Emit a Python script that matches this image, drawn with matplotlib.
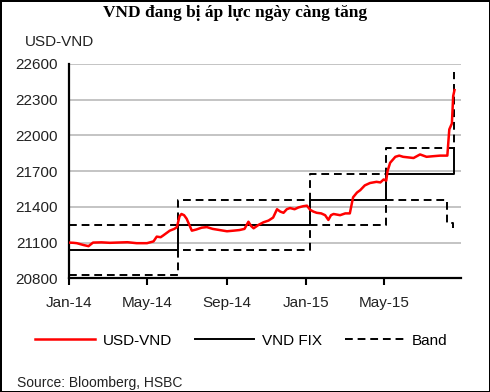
import numpy as np
import pandas as pd
import matplotlib
matplotlib.use("Agg")
import matplotlib.pyplot as plt
import matplotlib.dates as mdates
from matplotlib.lines import Line2D

# USD-VND market rate
usd_dates = [
    "2014-01-01", "2014-01-08", "2014-01-13", "2014-01-23", "2014-01-31", "2014-02-07",
    "2014-02-20", "2014-03-05", "2014-03-15", "2014-04-01", "2014-04-15", "2014-05-01",
    "2014-05-11", "2014-05-16", "2014-05-22", "2014-05-26", "2014-06-05", "2014-06-12",
    "2014-06-16", "2014-06-20", "2014-06-23", "2014-06-27", "2014-07-01", "2014-07-09",
    "2014-07-16", "2014-07-24", "2014-08-01", "2014-08-10", "2014-08-21", "2014-09-01",
    "2014-09-11", "2014-09-20", "2014-09-28", "2014-10-04", "2014-10-08", "2014-10-12",
    "2014-10-20", "2014-10-27", "2014-11-04", "2014-11-11", "2014-11-17", "2014-11-22",
    "2014-11-27", "2014-12-02", "2014-12-07", "2014-12-14", "2014-12-20", "2014-12-27",
    "2015-01-02", "2015-01-07", "2015-01-12", "2015-01-17", "2015-01-24", "2015-01-30",
    "2015-02-04", "2015-02-08", "2015-02-12", "2015-02-22", "2015-03-02", "2015-03-09",
    "2015-03-14", "2015-03-20", "2015-03-25", "2015-04-01", "2015-04-09", "2015-04-19",
    "2015-04-25", "2015-04-30", "2015-05-04", "2015-05-06", "2015-05-10", "2015-05-18",
    "2015-05-24", "2015-05-30", "2015-06-07", "2015-06-15", "2015-06-25", "2015-07-05",
    "2015-07-15", "2015-07-26", "2015-08-06", "2015-08-09", "2015-08-13", "2015-08-15",
    "2015-08-17",
]
usd_vnd = [
    21100, 21098, 21095, 21080, 21070, 21100,
    21102, 21098, 21100, 21103, 21095, 21095,
    21110, 21150, 21145, 21160, 21200, 21215,
    21230, 21320, 21340, 21330, 21300, 21200,
    21210, 21225, 21230, 21215, 21205, 21195,
    21200, 21205, 21215, 21275, 21240, 21220,
    21250, 21270, 21285, 21310, 21380, 21360,
    21350, 21380, 21390, 21380, 21395, 21405,
    21410, 21375, 21360, 21350, 21345, 21330,
    21290, 21330, 21340, 21330, 21345, 21345,
    21480, 21520, 21540, 21580, 21600, 21610,
    21605, 21630, 21620, 21700, 21770, 21820,
    21830, 21820, 21815, 21810, 21840, 21820,
    21825, 21830, 21830, 22050, 22100, 22330,
    22380,
]

# Central reference rate (VND FIX) and trading band
fix_dates = ["2014-01-01", "2014-06-17", "2015-01-06", "2015-05-04", "2015-08-16"]
vnd_fix = [21036, 21246, 21458, 21673, 21890]
band_upper = [21246, 21458, 21673, 21890, 22530]
lower_dates = ["2014-01-01", "2014-06-17", "2015-01-06", "2015-05-04", "2015-08-06", "2015-08-15"]
band_lower = [20826, 21034, 21246, 21456, 21262, 21220]

x_ticks = ["2014-01-01", "2014-05-01", "2014-09-01", "2015-01-01", "2015-05-01"]
y_ticks = [20800, 21100, 21400, 21700, 22000, 22300, 22600]

plt.rcParams["font.family"] = ["Liberation Sans", "DejaVu Sans"]

fig = plt.figure(figsize=(4.9, 3.92), dpi=100)
fig.patch.set_edgecolor("black")
fig.patch.set_linewidth(2)
ax = fig.add_axes([0.1408, 0.290, 0.80, 0.547])

ax.plot(pd.to_datetime(usd_dates), usd_vnd, color="#ff0000", lw=1.8, zorder=3)
ax.plot(pd.to_datetime(fix_dates), vnd_fix, color="black", lw=1.4,
        drawstyle="steps-post", zorder=2)
ax.plot(pd.to_datetime(fix_dates), band_upper, color="black", lw=1.4,
        ls=(0, (4, 2.5)), drawstyle="steps-post", zorder=2)
ax.plot(pd.to_datetime(lower_dates), band_lower, color="black", lw=1.4,
        ls=(0, (4, 2.5)), drawstyle="steps-post", zorder=2)

ax.set_ylim(20800, 22600)
ax.set_xlim(pd.Timestamp("2014-01-01"), pd.Timestamp("2015-08-27"))
ax.set_yticks(y_ticks)
ax.set_xticks(pd.to_datetime(x_ticks))
ax.xaxis.set_major_formatter(mdates.DateFormatter("%b-%y"))
ax.tick_params(axis="y", length=0, pad=8, labelsize=11, colors="#222222")
ax.tick_params(axis="x", length=5, width=1.5, direction="out", pad=8,
               labelsize=11, labelcolor="#222222")
ax.grid(axis="y", color="#c4c4c4", lw=1.4)
ax.set_axisbelow(True)
for s in ["top", "right"]:
    ax.spines[s].set_visible(False)
for s in ["left", "bottom"]:
    ax.spines[s].set_linewidth(1.6)

fig.text(0.48, 0.968, "VND đang bị áp lực ngày càng tăng", ha="center", va="center",
         fontsize=12.5, fontweight="bold", family="Liberation Serif")
fig.text(0.05, 0.893, "USD-VND", ha="left", va="center", fontsize=11, color="#222222")

handles = [
    Line2D([], [], color="#ff0000", lw=1.8),
    Line2D([], [], color="black", lw=1.4),
    Line2D([], [], color="black", lw=1.4, ls=(0, (4, 2.5))),
]
fig.legend(handles, ["USD-VND", "VND FIX", "Band"], loc="center",
           bbox_to_anchor=(0.493, 0.131), ncol=3, frameon=False, fontsize=11,
           handlelength=3.9, handletextpad=0.5, columnspacing=1.5)

fig.text(0.035, 0.022, "Source: Bloomberg, HSBC", ha="left", va="center",
         fontsize=10, color="#222222")

fig.savefig("out.png", dpi=100)
